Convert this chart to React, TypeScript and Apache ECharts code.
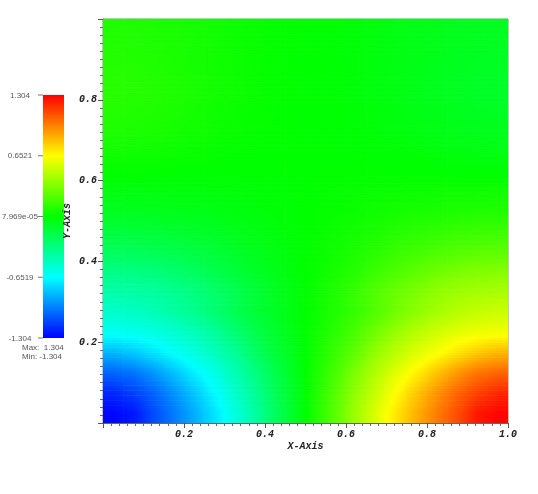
import React, { useEffect, useRef } from 'react';
import * as echarts from 'echarts';

// Sample positions of the scalar field (data coordinates)
const xCells = [0.025, 0.075, 0.125, 0.175, 0.225, 0.275, 0.325, 0.375, 0.425, 0.475, 0.525, 0.575, 0.625, 0.675, 0.725, 0.775, 0.825, 0.875, 0.925, 0.975];
const yCells = [0.025, 0.075, 0.125, 0.175, 0.225, 0.275, 0.325, 0.375, 0.425, 0.475, 0.525, 0.575, 0.625, 0.675, 0.725, 0.775, 0.825, 0.875, 0.925, 0.975];
const cellSize = 0.05;

// Scalar values, one array per row (bottom row first)
const row00 = [-1.29, -1.25, -1.11, -0.99, -0.86, -0.72, -0.57, -0.41, -0.24, -0.08, 0.08, 0.24, 0.41, 0.57, 0.72, 0.86, 0.99, 1.11, 1.25, 1.29];
const row01 = [-1.21, -1.14, -1.05, -0.93, -0.8, -0.66, -0.52, -0.38, -0.22, -0.075, 0.075, 0.22, 0.38, 0.52, 0.66, 0.8, 0.93, 1.05, 1.14, 1.21];
const row02 = [-1.05, -1.01, -0.92, -0.81, -0.69, -0.58, -0.46, -0.33, -0.19, -0.065, 0.065, 0.19, 0.33, 0.46, 0.58, 0.69, 0.81, 0.92, 1.01, 1.05];
const row03 = [-0.84, -0.79, -0.72, -0.64, -0.57, -0.48, -0.38, -0.25, -0.14, -0.05, 0.05, 0.14, 0.25, 0.38, 0.48, 0.57, 0.64, 0.72, 0.79, 0.84];
const row04 = [-0.62, -0.61, -0.58, -0.53, -0.47, -0.39, -0.29, -0.19, -0.11, -0.037, 0.037, 0.11, 0.19, 0.29, 0.39, 0.47, 0.53, 0.58, 0.61, 0.62];
const row05 = [-0.52, -0.5, -0.47, -0.42, -0.36, -0.29, -0.21, -0.14, -0.085, -0.028, 0.028, 0.085, 0.14, 0.21, 0.29, 0.36, 0.42, 0.47, 0.5, 0.52];
const row06 = [-0.43, -0.42, -0.4, -0.37, -0.32, -0.27, -0.21, -0.14, -0.08, -0.027, 0.027, 0.08, 0.14, 0.21, 0.27, 0.32, 0.37, 0.4, 0.42, 0.43];
const row07 = [-0.34, -0.33, -0.31, -0.28, -0.24, -0.2, -0.15, -0.1, -0.06, -0.02, 0.02, 0.06, 0.1, 0.15, 0.2, 0.24, 0.28, 0.31, 0.33, 0.34];
const row08 = [-0.23, -0.225, -0.21, -0.19, -0.165, -0.14, -0.1, -0.07, -0.04, -0.013, 0.013, 0.04, 0.07, 0.1, 0.14, 0.165, 0.19, 0.21, 0.225, 0.23];
const row09 = [-0.15, -0.145, -0.135, -0.12, -0.105, -0.09, -0.065, -0.045, -0.026, -0.009, 0.009, 0.026, 0.045, 0.065, 0.09, 0.105, 0.12, 0.135, 0.145, 0.15];
const row10 = [-0.08, -0.078, -0.072, -0.065, -0.057, -0.048, -0.036, -0.025, -0.015, -0.005, 0.005, 0.015, 0.025, 0.036, 0.048, 0.057, 0.065, 0.072, 0.078, 0.08];
const row11 = [-0.035, -0.034, -0.032, -0.03, -0.027, -0.023, -0.018, -0.013, -0.008, -0.003, 0.003, 0.008, 0.013, 0.018, 0.023, 0.027, 0.03, 0.032, 0.034, 0.035];
const row12 = [0.01, 0.008, 0.005, 0.002, 0, -0.002, -0.003, -0.003, -0.002, -0.001, 0.001, 0.002, 0.003, 0.003, 0.002, 0, -0.002, -0.005, -0.008, -0.01];
const row13 = [0.045, 0.042, 0.036, 0.028, 0.02, 0.013, 0.007, 0.003, 0.001, 0, 0, -0.001, -0.003, -0.007, -0.013, -0.02, -0.028, -0.036, -0.042, -0.045];
const row14 = [0.075, 0.07, 0.062, 0.052, 0.04, 0.029, 0.019, 0.01, 0.004, 0.001, -0.001, -0.004, -0.01, -0.019, -0.029, -0.04, -0.052, -0.062, -0.07, -0.075];
const row15 = [0.09, 0.085, 0.076, 0.064, 0.051, 0.038, 0.026, 0.015, 0.007, 0.002, -0.002, -0.007, -0.015, -0.026, -0.038, -0.051, -0.064, -0.076, -0.085, -0.09];
const row16 = [0.1, 0.094, 0.085, 0.073, 0.059, 0.045, 0.031, 0.018, 0.008, 0.002, -0.002, -0.008, -0.018, -0.031, -0.045, -0.059, -0.073, -0.085, -0.094, -0.1];
const row17 = [0.095, 0.09, 0.081, 0.07, 0.057, 0.044, 0.03, 0.018, 0.008, 0.002, -0.002, -0.008, -0.018, -0.03, -0.044, -0.057, -0.07, -0.081, -0.09, -0.095];
const row18 = [0.085, 0.081, 0.074, 0.064, 0.053, 0.041, 0.029, 0.018, 0.008, 0.002, -0.002, -0.008, -0.018, -0.029, -0.041, -0.053, -0.064, -0.074, -0.081, -0.085];
const row19 = [0.08, 0.076, 0.07, 0.061, 0.051, 0.04, 0.029, 0.018, 0.008, 0.002, -0.002, -0.008, -0.018, -0.029, -0.04, -0.051, -0.061, -0.07, -0.076, -0.08];
const fieldRows = [row00, row01, row02, row03, row04, row05, row06, row07, row08, row09, row10, row11, row12, row13, row14, row15, row16, row17, row18, row19];

const scalarMin = -1.304;
const scalarMax = 1.304;
const rainbow = ['#0000ff', '#00ffff', '#00ff00', '#ffff00', '#ff0000'];
const barLabels = ['1.304', '0.6521', '7.969e-05', '-0.6519', '-1.304'];
const rangeLabels = ['Max:  1.304', 'Min: -1.304'];

function colorOf(v: number): string {
  let t = (v - scalarMin) / (scalarMax - scalarMin);
  t = Math.max(0, Math.min(1, t));
  const lerp = (echarts as any).color && (echarts as any).color.lerp;
  if (lerp) return lerp(t, rainbow);
  const seg = Math.min(3, Math.floor(t * 4));
  const f = t * 4 - seg;
  const a = echarts.color.parse(rainbow[seg]);
  const b = echarts.color.parse(rainbow[seg + 1]);
  return `rgb(${Math.round(a[0] + (b[0] - a[0]) * f)},${Math.round(a[1] + (b[1] - a[1]) * f)},${Math.round(a[2] + (b[2] - a[2]) * f)})`;
}

// Gouraud-style shading between the read samples (render only)
function shadeAt(fi: number, fj: number): number {
  const nX = xCells.length;
  const nY = yCells.length;
  const ci = Math.max(0, Math.min(nX - 1, fi));
  const cj = Math.max(0, Math.min(nY - 1, fj));
  const i0 = Math.min(nX - 2, Math.floor(ci));
  const j0 = Math.min(nY - 2, Math.floor(cj));
  const u = ci - i0;
  const w = cj - j0;
  const a = fieldRows[j0][i0];
  const b = fieldRows[j0][i0 + 1];
  const c = fieldRows[j0 + 1][i0];
  const d = fieldRows[j0 + 1][i0 + 1];
  return a * (1 - u) * (1 - w) + b * u * (1 - w) + c * (1 - u) * w + d * u * w;
}

export default function App() {
  const ref = useRef<HTMLDivElement>(null);

  useEffect(() => {
    const chart = echarts.init(ref.current as HTMLDivElement, null, { renderer: 'svg' });

    const data: number[][] = [];
    fieldRows.forEach((row, j) => {
      row.forEach((v, i) => data.push([xCells[i], yCells[j], v]));
    });
    const nX = xCells.length;

    const tickFont = {
      fontFamily: 'Liberation Mono',
      fontWeight: 'bold' as const,
      fontStyle: 'italic' as const,
      fontSize: 10,
      color: '#222',
    };

    const barX = 43;
    const barY = 95;
    const barW = 21;
    const barH = 243;
    const graphics: any[] = [
      {
        type: 'rect',
        shape: { x: barX, y: barY, width: barW, height: barH },
        style: {
          fill: new echarts.graphic.LinearGradient(0, 0, 0, 1, [
            { offset: 0, color: rainbow[4] },
            { offset: 0.25, color: rainbow[3] },
            { offset: 0.5, color: rainbow[2] },
            { offset: 0.75, color: rainbow[1] },
            { offset: 1, color: rainbow[0] },
          ]),
        },
      },
    ];
    barLabels.forEach((t, k) => {
      const yy = barY + (k * barH) / (barLabels.length - 1);
      graphics.push({
        type: 'line',
        shape: { x1: 38, y1: yy, x2: barX, y2: yy },
        style: { stroke: '#777', lineWidth: 1 },
      });
      graphics.push({
        type: 'text',
        x: 20,
        y: yy,
        style: {
          text: t,
          align: 'center',
          verticalAlign: 'middle',
          font: '8px "Liberation Sans"',
          fill: '#555',
        },
      });
    });
    rangeLabels.forEach((t, k) => {
      graphics.push({
        type: 'text',
        x: 22,
        y: 347.5 + k * 8.5,
        style: {
          text: t,
          align: 'left',
          verticalAlign: 'middle',
          font: '8px "Liberation Sans"',
          fill: '#555',
        },
      });
    });

    const subStrips = 8;
    const hStops = [-0.5, -0.25, 0, 0.25, 0.5];

    chart.setOption({
      animation: false,
      grid: {
        left: 103,
        top: 19,
        width: 405,
        height: 404,
        show: true,
        borderColor: '#888',
        borderWidth: 1,
        backgroundColor: 'transparent',
      },
      xAxis: {
        type: 'value',
        min: 0,
        max: 1,
        interval: 0.2,
        name: 'X-Axis',
        nameLocation: 'middle',
        nameGap: 18,
        nameMoveOverlap: false,
        nameTextStyle: tickFont,
        axisLine: { show: true, lineStyle: { color: '#666' } },
        axisTick: { show: true, length: 5, lineStyle: { color: '#555' } },
        minorTick: { show: true, splitNumber: 10, length: 3, lineStyle: { color: '#666' } },
        splitLine: { show: false },
        axisLabel: {
          ...tickFont,
          margin: 6,
          formatter: (v: number) => (v === 0 ? '' : v.toFixed(1)),
        },
      },
      yAxis: {
        type: 'value',
        min: 0,
        max: 1,
        interval: 0.2,
        name: 'Y-Axis',
        nameLocation: 'middle',
        nameGap: 31,
        nameMoveOverlap: false,
        nameTextStyle: tickFont,
        axisLine: { show: true, lineStyle: { color: '#666' } },
        axisTick: { show: true, length: 5, lineStyle: { color: '#555' } },
        minorTick: { show: true, splitNumber: 10, length: 3, lineStyle: { color: '#666' } },
        splitLine: { show: false },
        axisLabel: {
          ...tickFont,
          margin: 6,
          formatter: (v: number) => (v === 0 || v === 1 ? '' : v.toFixed(1)),
        },
      },
      series: [
        {
          type: 'custom',
          clip: true,
          encode: { x: 0, y: 1 },
          data,
          renderItem: (params: any, api: any) => {
            const idx = params.dataIndex;
            const i = idx % nX;
            const j = Math.floor(idx / nX);
            const x = api.value(0);
            const y = api.value(1);
            const h = cellSize / 2;
            const children: any[] = [];
            for (let s = 0; s < subStrips; s++) {
              const fy0 = -0.5 + s / subStrips;
              const fy1 = -0.5 + (s + 1) / subStrips;
              const fyc = (fy0 + fy1) / 2;
              const pTop = api.coord([x - h, y + fy1 * cellSize]);
              const pBot = api.coord([x + h, y + fy0 * cellSize]);
              const stops = hStops.map((fx, k) => ({
                offset: k / (hStops.length - 1),
                color: colorOf(shadeAt(i + fx, j + fyc)),
              }));
              children.push({
                type: 'rect',
                shape: {
                  x: pTop[0],
                  y: pTop[1],
                  width: pBot[0] - pTop[0] + 0.6,
                  height: pBot[1] - pTop[1] + 0.6,
                },
                style: { fill: new echarts.graphic.LinearGradient(0, 0, 1, 0, stops) },
              });
            }
            return { type: 'group', children };
          },
        },
      ],
      graphic: graphics,
    });

    return () => chart.dispose();
  }, []);

  return <div ref={ref} style={{ position: 'fixed', left: 0, top: 0, width: 538, height: 494 }} />;
}
